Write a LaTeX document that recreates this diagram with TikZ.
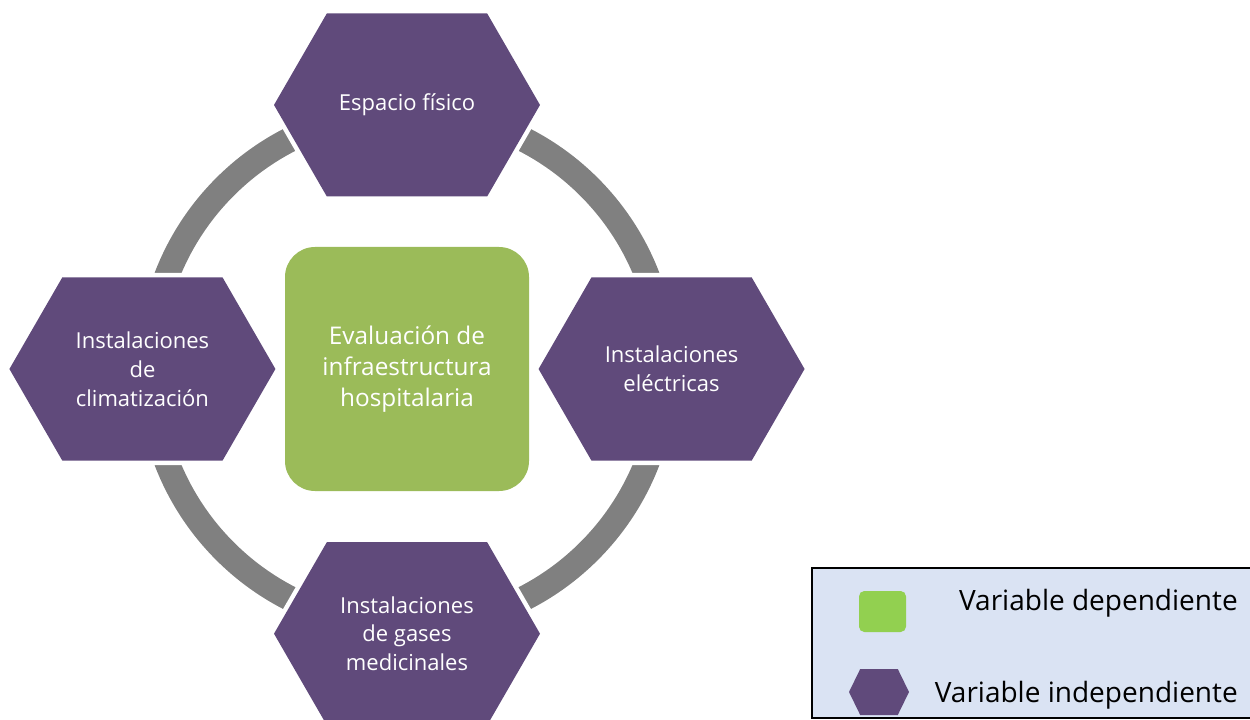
\documentclass[tikz,border=0pt]{standalone}
\usepackage{fontspec}
\setmainfont{Open Sans}
\usetikzlibrary{positioning,shapes.symbols}
\definecolor{hexpurple}{RGB}{96,74,123}
\definecolor{evalgreen}{RGB}{155,187,89}
\definecolor{ringgray}{RGB}{128,128,128}
\definecolor{legendblue}{RGB}{218,227,243}
\definecolor{keygreen}{RGB}{146,208,80}
\tikzset{
  hexnode/.style={signal, signal to=west and east, signal pointer angle=120,
    fill=hexpurple, text=white, inner sep=0pt, align=center,
    minimum width=199.5pt, minimum height=137.25pt,
    font=\fontsize{16.5}{21.6}\selectfont,
    preaction={draw=white, line width=6.75pt}},
  evalnode/.style={rectangle, rounded corners=22.5pt, fill=evalgreen, text=white,
    minimum size=183pt, align=center, font=\fontsize{18.25}{23.25}\selectfont},
  ring/.style={draw=ringgray, line width=18.75pt},
  legendbox/.style={rectangle, draw=black, line width=1.5pt, fill=legendblue,
    minimum width=340pt, minimum height=112.5pt, anchor=north west},
  keytext/.style={inner sep=0pt, anchor=base east, font=\fontsize{21}{25}\selectfont}
}
\begin{document}
\begin{tikzpicture}[x=0.75pt,y=-0.75pt]
  \useasboundingbox (0,0) rectangle (1250,720);
  \node[evalnode] (eval) at (407,369) {Evaluación de\\infraestructura\\hospitalaria};
  \draw[ring] (eval.center) circle[radius=257.5];
  \node[hexnode, above=37.5pt of eval] (fisico) {Espacio físico};
  \node[hexnode, below=38pt of eval] (gases) {Instalaciones\\de gases\\medicinales};
  \node[hexnode, left=6.75pt of eval] (clima) {Instalaciones\\de\\climatización};
  \node[hexnode, right=6.75pt of eval] (electr) {Instalaciones\\eléctricas};
  % leyenda
  \node[legendbox] (legend) at (811,567) {};
  \node[rectangle, rounded corners=4pt, fill=keygreen, minimum width=35.25pt,
    minimum height=30.75pt] (depkey) at (882.5,611.5) {};
  \node[keytext] (deptext) at (1238,610) {Variable dependiente};
  \node[signal, signal to=west and east, signal pointer angle=128, fill=hexpurple,
    inner sep=0pt, minimum width=45pt, minimum height=34.5pt] (indkey) at (879,692) {};
  \node[keytext] (indtext) at (1238,702) {Variable independiente};
\end{tikzpicture}
\end{document}
